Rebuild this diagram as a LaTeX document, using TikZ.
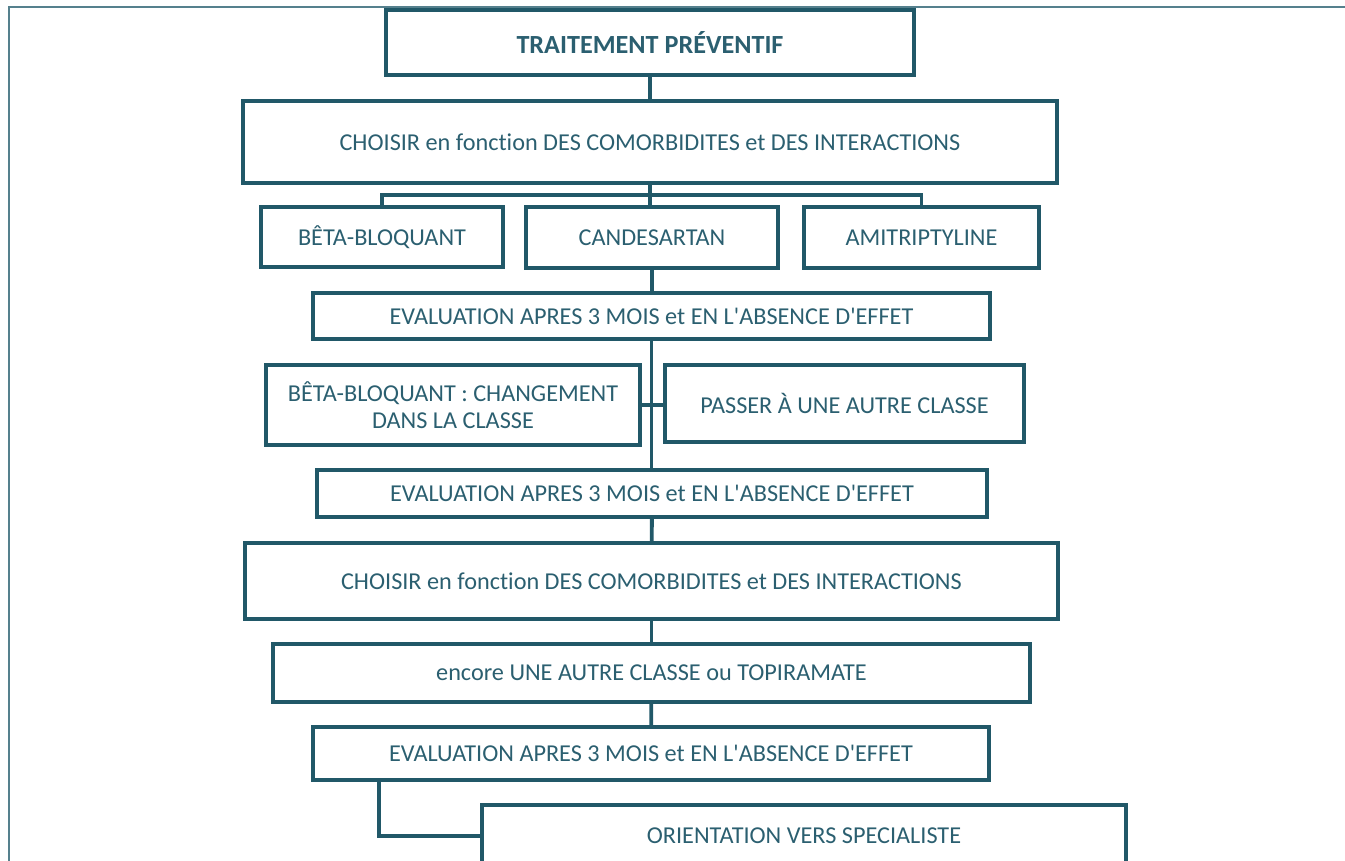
\documentclass[tikz,border=0pt]{standalone}
\usepackage{fontspec}
\setmainfont{Carlito}[Ligatures={NoCommon}]
\usepackage{tikz}
\usetikzlibrary{positioning, calc}
\definecolor{boxline}{HTML}{215868}
\definecolor{boxtext}{HTML}{2B5F70}
\definecolor{frameline}{HTML}{55808D}
\newcommand{\apos}{\textquotesingle}
\tikzset{x=0.02cm, y=-0.02cm}
\tikzset{link/.style={line width=2.2pt, draw=boxline}}
\tikzset{stepbox/.style 2 args={rectangle, draw=boxline, line width=2.2pt,
    text=boxtext, inner sep=0pt, align=center,
    font=\fontsize{13.8}{15}\selectfont,
    minimum width=#1*0.02cm, minimum height=#2*0.02cm}}

\begin{document}
\begin{tikzpicture}
  \useasboundingbox (0,0) rectangle (1345,861);
  \clip (0,0) rectangle (1345,861);
  % page frame
  \draw[frameline, line width=0.9pt] (9,861) -- (9,7) -- (1345,7);
  % boxes
  \node[stepbox={528}{65}, font=\fontsize{14.9}{16}\selectfont\bfseries] (trt) at (650,42.5) {TRAITEMENT PRÉVENTIF};
  \node[stepbox={814}{82}] (choix1) at (650,142) {CHOISIR en fonction DES COMORBIDITES et DES INTERACTIONS};
  \node[stepbox={242}{60}] (beta) at (382,237) {BÊTA-BLOQUANT};
  \node[stepbox={252}{61}] (cand) at (652,237.5) {CANDESARTAN};
  \node[stepbox={235}{61}] (amit) at (921.5,237.5) {AMITRIPTYLINE};
  \node[stepbox={677}{46}] (eval1) at (651.5,316) {EVALUATION APRES 3 MOIS et EN L\apos ABSENCE D\apos EFFET};
  \node[stepbox={374}{80}] (chg) at (453,405) {BÊTA-BLOQUANT : CHANGEMENT\\DANS LA CLASSE};
  \node[stepbox={359}{77}] (autre) at (844.5,403.5) {PASSER À UNE AUTRE CLASSE};
  \node[stepbox={670}{47}] (eval2) at (652,493.5) {EVALUATION APRES 3 MOIS et EN L\apos ABSENCE D\apos EFFET};
  \node[stepbox={813}{76}] (choix2) at (651.5,581) {CHOISIR en fonction DES COMORBIDITES et DES INTERACTIONS};
  \node[stepbox={757}{58}] (encore) at (651.5,673) {encore UNE AUTRE CLASSE ou TOPIRAMATE};
  \node[stepbox={676}{53}] (eval3) at (651,753.5) {EVALUATION APRES 3 MOIS et EN L\apos ABSENCE D\apos EFFET};
  \node[stepbox={644}{62}] (orient) at (804,836) {ORIENTATION VERS SPECIALISTE};
  % connectors
  \coordinate (split) at (650,195);
  \draw[link] (trt) -- (choix1);
  \draw[link] (choix1) -- (split);
  \draw[link] (beta.north) |- (split) -| (amit.north);
  \draw[link] (split) -- (split |- cand.north);
  \draw[link] (cand) -- (cand.south |- eval1.north);
  \draw[link] (eval1.south) -- (eval1.south |- eval2.north);
  \draw[link] (chg.east) -- (chg.east -| autre.west);
  \draw[link] (eval2) -- (choix2);
  \draw[link] (choix2) -- (encore);
  \draw[link] (encore) -- (eval3);
  \coordinate (c3) at ($(eval3.south west)!0.1!(eval3.south east)$);
  \draw[link] (c3) |- (orient.west);
\end{tikzpicture}
\end{document}
